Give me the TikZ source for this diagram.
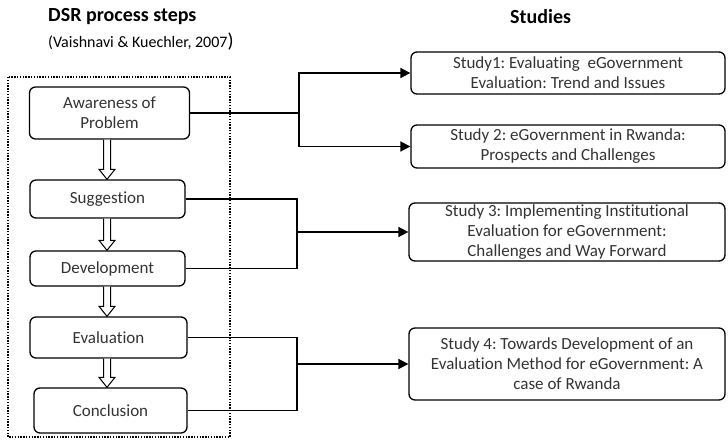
\documentclass[tikz,border=0pt]{standalone}
\usepackage{fontspec}
\setmainfont{Carlito}[Ligatures=NoCommon]
\usetikzlibrary{arrows.meta,calc}
\frenchspacing
\tikzset{
  stepbox/.style={draw, line width=1.3pt, rounded corners=6pt, align=center, inner sep=0pt,
    text=black!80, font=\fontsize{17}{20}\selectfont},
  conn/.style={line width=1.7pt},
  connarr/.style={line width=1.7pt, -{Triangle[length=10pt,width=10pt]}},
  harr/.style={draw, fill=white, line width=1pt, line join=miter},
  title/.style={font=\fontsize{20}{24}\selectfont\bfseries, anchor=base west, inner sep=0pt},
}
\newcommand\harrow[2]{%
  \path[harr] let \p1=(107,0 |- #1.south), \p2=(107,0 |- #2.north) in
   (\x1-3.5pt,\y1) -- (\x1-3.5pt,\y2+10pt) -- (\x1-8pt,\y2+10pt) -- (\x2,\y2)
   -- (\x1+8pt,\y2+10pt) -- (\x1+3.5pt,\y2+10pt) -- (\x1+3.5pt,\y1);}
\begin{document}
\begin{tikzpicture}[x=1pt,y=-1pt]
\useasboundingbox (0,0) rectangle (728,446);
% titles
\node[title] (t1) at (48,22) {DSR process steps};
\node[anchor=base west, inner sep=0pt, font=\fontsize{16}{18}\selectfont] (t2) at (48,48) {(Vaishnavi \& Kuechler, 2007{\fontsize{20}{20}\selectfont)}};
\node[title] (t3) at (510,24) {Studies};
% dotted frame
\draw[line width=1.4pt, dash pattern=on 1.4pt off 1.4pt] (8,77) rectangle (230,437);
% process boxes
\node[stepbox, minimum width=160pt, minimum height=52pt] (aw) at (109.5,113) {Awareness of\\Problem};
\node[stepbox, minimum width=155pt, minimum height=38pt] (sug) at (107.5,199) {Suggestion};
\node[stepbox, minimum width=155pt, minimum height=35pt] (dev) at (107.5,268.5) {Development};
\node[stepbox, minimum width=157pt, minimum height=41pt] (eva) at (108.5,337.5) {Evaluation};
\node[stepbox, minimum width=153pt, minimum height=45pt] (con) at (110.5,410.5) {Conclusion};
% study boxes
\node[stepbox, minimum width=314pt, minimum height=42pt] (s1) at (568,73) {Study1: Evaluating \ eGovernment\\Evaluation: Trend and Issues};
\node[stepbox, minimum width=314pt, minimum height=43pt] (s2) at (568,146.5) {Study 2: eGovernment in Rwanda:\\Prospects and Challenges};
\node[stepbox, minimum width=316pt, minimum height=58pt] (s3) at (567,232) {Study 3: Implementing Institutional\\Evaluation for eGovernment:\\Challenges and Way Forward};
\node[stepbox, minimum width=316pt, minimum height=72pt] (s4) at (567,364) {Study 4: Towards Development of an\\Evaluation Method for eGovernment: A\\case of Rwanda};
% hollow arrows
\harrow{aw}{sug}
\harrow{sug}{dev}
\harrow{dev}{eva}
\harrow{eva}{con}
% connectors
\coordinate (ja) at (299,113);
\draw[conn] (aw.east) -- (ja);
\draw[connarr] (ja) |- (s1.west);
\draw[connarr] (ja) |- (s2.west);
\coordinate (jb) at (297,0 |- s3.west);
\draw[conn] (sug.east) -| (jb) |- (dev.east);
\draw[connarr] (jb) -- (s3.west);
\coordinate (jc) at (297,0 |- s4.west);
\draw[conn] (eva.east) -| (jc) |- (con.east);
\draw[connarr] (jc) -- (s4.west);
\end{tikzpicture}
\end{document}
